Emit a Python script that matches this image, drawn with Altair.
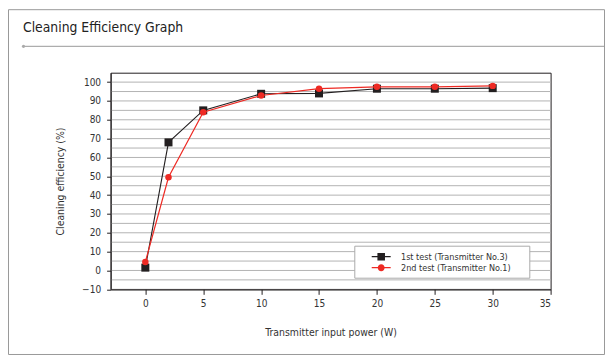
import altair as alt
import pandas as pd

# ---- data ----
power = [0, 2, 5, 10, 15, 20, 25, 30]
test1 = [1.5, 68, 85, 93.8, 94, 96.5, 96.5, 96.8]
test2 = [4.5, 49.5, 84, 92.9, 96.5, 97.5, 97.5, 98]
series = ["1st test (Transmitter No.3)", "2nd test (Transmitter No.1)"]
x_ticks = [0, 5, 10, 15, 20, 25, 30, 35]
y_labels = list(range(-10, 101, 10))
y_grid = list(range(-10, 101, 5))
chart_title = "Cleaning Efficiency Graph"
x_title = "Transmitter input power (W)"
y_title = "Cleaning efficiency (%)"

df = pd.DataFrame({
    "power": power + power,
    "eff": test1 + test2,
    "series": [series[0]] * len(power) + [series[1]] * len(power),
})
grid_df = pd.DataFrame({"g": y_grid})

FONT = "DejaVu Sans Condensed, DejaVu Sans, sans-serif"
BLACK = "#231f20"
RED = "#ee2a24"

# layout (pixels)
W, H = 440, 216.6
PL, PT = 102.6, 64.7
TOT_W, TOT_H = 597, 347

color_scale = alt.Scale(domain=series, range=[BLACK, RED])

x_enc = alt.X(
    "power:Q",
    scale=alt.Scale(domain=[-3, 35], nice=False, zero=False),
    axis=alt.Axis(values=x_ticks, tickCount=len(x_ticks), title=x_title, grid=False,
                  tickSize=5, labelPadding=4, titleX=W / 2, titleY=43, zindex=1,
                  titleBaseline="middle", titleAlign="center"),
)
y_enc = alt.Y(
    "eff:Q",
    scale=alt.Scale(domain=[-10, 105], nice=False, zero=False),
    axis=alt.Axis(values=y_labels, tickCount=len(y_labels), title=y_title, grid=False,
                  tickSize=4, labelPadding=6, zindex=1, labelOverlap=False,
                  titleX=-50, titleY=H / 2, titleAngle=-90,
                  titleBaseline="middle", titleAlign="center"),
)

# legend symbols: a short line with the marker on it
sq_path = "M-1.58,-0.1H1.58V0.1H-1.58Z M-0.63,-0.63H0.63V0.63H-0.63Z"
ci_path = "M-1.58,-0.1H1.58V0.1H-1.58Z M0,-0.58A0.58,0.58 0 1,1 0,0.58A0.58,0.58 0 1,1 0,-0.58Z"

# trailing non-breaking spaces widen the legend box; the zero-width space stops trimming
pad = "\u00a0" * 5 + "\u200b"
leg = dict(title=None, orient="none", legendX=243.7, legendY=173,
           strokeColor="#aaaaaa", fillColor="white", padding=5,
           symbolSize=144, symbolOffset=15.9, symbolStrokeWidth=0, symbolOpacity=1,
           labelOffset=13.8, labelFont=FONT, labelFontSize=9, labelColor="#333333",
           rowPadding=0, labelExpr="datum.label + '" + pad + "'")

base = alt.Chart(df)

# invisible layer that only provides the legend (listed first so its legend wins the merge)
legend_layer = base.mark_point(filled=True, opacity=0).encode(
    x=x_enc, y=y_enc,
    color=alt.Color("series:N", scale=color_scale, legend=alt.Legend(**leg)),
    shape=alt.Shape("series:N", scale=alt.Scale(domain=series, range=[sq_path, ci_path]),
                    legend=alt.Legend(**leg)),
)

# horizontal grid every 5 %
grid = alt.Chart(grid_df).mark_rule(color="#b3b3b3", strokeWidth=1).encode(
    y="g:Q", x=alt.value(0), x2=alt.value(W))

line1 = base.transform_filter(alt.datum.series == series[0]).mark_line(
    strokeWidth=1.1).encode(x="power:Q", y="eff:Q",
                            color=alt.Color("series:N", scale=color_scale, legend=None))
pts1 = base.transform_filter(alt.datum.series == series[0]).mark_point(
    shape="square", filled=True, size=64, opacity=1).encode(
    x="power:Q", y="eff:Q", color=alt.Color("series:N", scale=color_scale, legend=None))
line2 = base.transform_filter(alt.datum.series == series[1]).mark_line(
    strokeWidth=1.2).encode(x="power:Q", y="eff:Q",
                            color=alt.Color("series:N", scale=color_scale, legend=None))
pts2 = base.transform_filter(alt.datum.series == series[1]).mark_point(
    shape="circle", filled=True, size=42, opacity=1).encode(
    x="power:Q", y="eff:Q", color=alt.Color("series:N", scale=color_scale, legend=None))

# decorative panel frame, title and separator
one = alt.Data(values=[{"k": 0}])
frame = alt.Chart(one).mark_rect(fillOpacity=0, stroke="#999999", strokeWidth=1).encode(
    x=alt.value(0.5 - PL), x2=alt.value(596.5 - PL),
    y=alt.value(1.7 - PT), y2=alt.value(346.5 - PT))
sep = alt.Chart(one).mark_rule(color="#999999", strokeWidth=1).encode(
    x=alt.value(23.5 - 110.6), x2=alt.value(596.5 - PL), y=alt.value(46.3 - 72.7))
dot = alt.Chart(one).mark_circle(color="#aaaaaa", size=10, opacity=1).encode(
    x=alt.value(23.5 - 110.6), y=alt.value(46.3 - 72.7))
title_txt = alt.Chart(one).mark_text(
    text=chart_title, align="left", baseline="middle", font=FONT, fontSize=13.8,
    color="#222222").encode(x=alt.value(23 - 110.6), y=alt.value(28 - 72.7))

chart = alt.layer(legend_layer, frame, sep, dot, title_txt, grid,
                  line1, pts1, line2, pts2).properties(
    width=W, height=H,
    autosize=alt.AutoSizeParams(type="none"),
    padding={"left": PL, "top": PT, "right": TOT_W - PL - W, "bottom": TOT_H - PT - H},
    background="white",
).configure_view(
    stroke=BLACK, strokeWidth=1,
).configure_axis(
    domainColor=BLACK, tickColor=BLACK,
    labelFont=FONT, labelFontSize=10, labelColor="#333333",
    titleFont=FONT, titleFontSize=10.4, titleColor="#333333", titleFontWeight="normal",
)

chart.save("out.html", embed_options={"renderer": "svg", "actions": False})
